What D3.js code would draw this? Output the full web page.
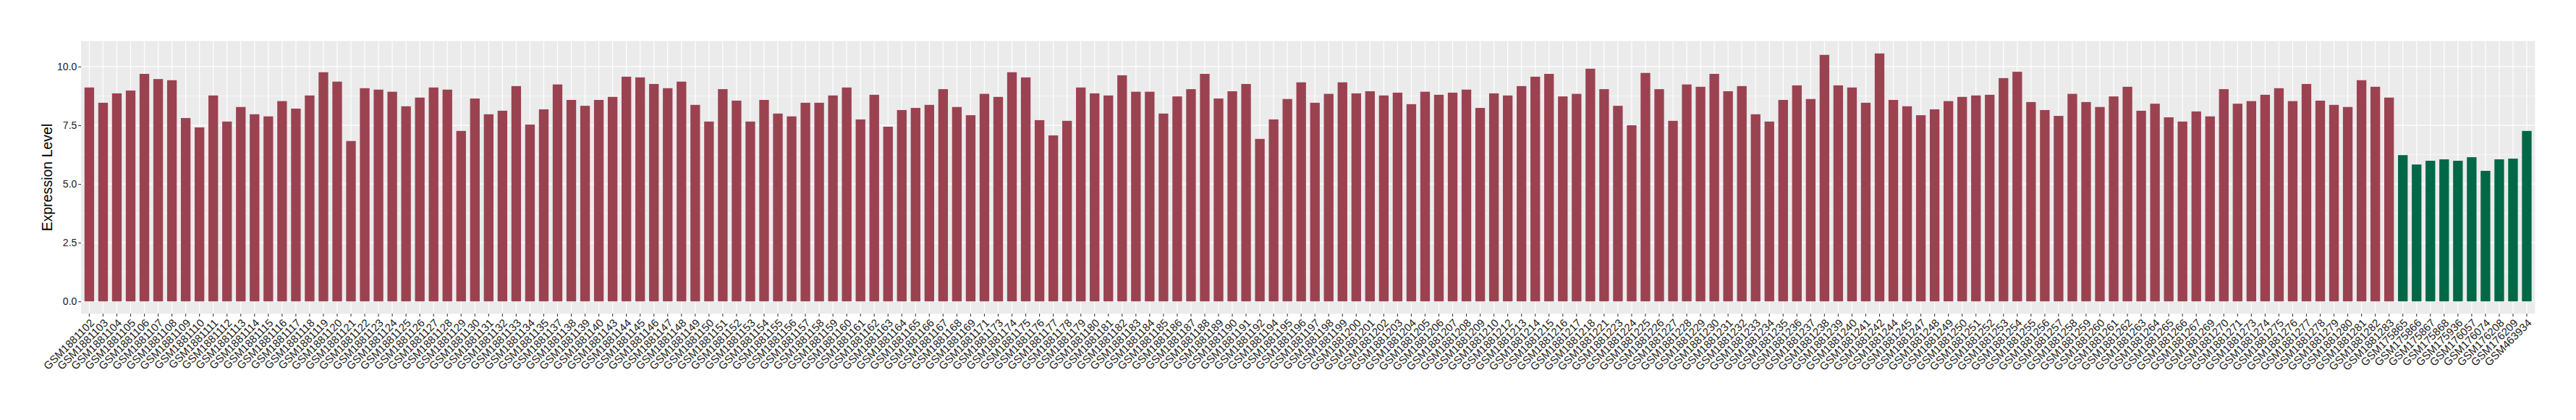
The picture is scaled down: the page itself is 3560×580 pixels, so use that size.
<!DOCTYPE html>
<html>
<head>
<meta charset="utf-8">
<style>
  body{ margin:0; background:#fff; }
  text{ font-family: "Liberation Sans", Arial, Helvetica, sans-serif; }
  .y-label{ fill:#1a1a1a; font-size:14px; }
  .x-label{ fill:#1a1a1a; font-size:15px; }
  .axis-title{ fill:#000; font-size:19.5px; }
</style>
<script src="https://d3js.org/d3.v7.min.js"></script>
</head>
<body>
<div id="chart"></div>
<script>
// samples in the first group (red bars)
const tumorSamples = [
  'GSM1881102','GSM1881103','GSM1881104','GSM1881105','GSM1881106','GSM1881107','GSM1881108','GSM1881109',
  'GSM1881110','GSM1881111','GSM1881112','GSM1881113','GSM1881114','GSM1881115','GSM1881116','GSM1881117',
  'GSM1881118','GSM1881119','GSM1881120','GSM1881121','GSM1881122','GSM1881123','GSM1881124','GSM1881125',
  'GSM1881126','GSM1881127','GSM1881128','GSM1881129','GSM1881130','GSM1881131','GSM1881132','GSM1881133',
  'GSM1881134','GSM1881135','GSM1881137','GSM1881138','GSM1881139','GSM1881140','GSM1881143','GSM1881144',
  'GSM1881145','GSM1881146','GSM1881147','GSM1881148','GSM1881149','GSM1881150','GSM1881151','GSM1881152',
  'GSM1881153','GSM1881154','GSM1881155','GSM1881156','GSM1881157','GSM1881158','GSM1881159','GSM1881160',
  'GSM1881161','GSM1881162','GSM1881163','GSM1881164','GSM1881165','GSM1881166','GSM1881167','GSM1881168',
  'GSM1881169','GSM1881171','GSM1881173','GSM1881174','GSM1881175','GSM1881176','GSM1881177','GSM1881178',
  'GSM1881179','GSM1881180','GSM1881181','GSM1881182','GSM1881183','GSM1881184','GSM1881185','GSM1881186',
  'GSM1881187','GSM1881188','GSM1881189','GSM1881190','GSM1881191','GSM1881192','GSM1881194','GSM1881195',
  'GSM1881196','GSM1881197','GSM1881198','GSM1881199','GSM1881200','GSM1881201','GSM1881202','GSM1881203',
  'GSM1881204','GSM1881205','GSM1881206','GSM1881207','GSM1881208','GSM1881209','GSM1881210','GSM1881212',
  'GSM1881213','GSM1881214','GSM1881215','GSM1881216','GSM1881217','GSM1881218','GSM1881221','GSM1881223',
  'GSM1881224','GSM1881225','GSM1881226','GSM1881227','GSM1881228','GSM1881229','GSM1881230','GSM1881231',
  'GSM1881232','GSM1881233','GSM1881234','GSM1881235','GSM1881236','GSM1881237','GSM1881238','GSM1881239',
  'GSM1881240','GSM1881241','GSM1881242','GSM1881244','GSM1881245','GSM1881247','GSM1881248','GSM1881249',
  'GSM1881250','GSM1881251','GSM1881252','GSM1881253','GSM1881254','GSM1881255','GSM1881256','GSM1881257',
  'GSM1881258','GSM1881259','GSM1881260','GSM1881261','GSM1881262','GSM1881263','GSM1881264','GSM1881265',
  'GSM1881266','GSM1881267','GSM1881269','GSM1881270','GSM1881271','GSM1881273','GSM1881274','GSM1881275',
  'GSM1881276','GSM1881277','GSM1881278','GSM1881279','GSM1881280','GSM1881281','GSM1881282','GSM1881283'
];
const tumorValues = [
  9.11, 8.46, 8.86, 8.98, 9.69, 9.47, 9.42, 7.81,
  7.41, 8.77, 7.66, 8.28, 7.97, 7.88, 8.53, 8.21,
  8.77, 9.76, 9.36, 6.83, 9.08, 9.02, 8.93, 8.31,
  8.68, 9.11, 9.02, 7.26, 8.64, 7.97, 8.12, 9.17,
  7.53, 8.18, 9.24, 8.58, 8.33, 8.58, 8.71, 9.57,
  9.54, 9.26, 9.08, 9.36, 8.37, 7.66, 9.04, 8.55,
  7.66, 8.58, 8.00, 7.88, 8.46, 8.46, 8.77, 9.11,
  7.75, 8.80, 7.44, 8.15, 8.24, 8.37, 9.04, 8.28,
  7.93, 8.84, 8.71, 9.76, 9.54, 7.72, 7.07, 7.69,
  9.11, 8.86, 8.77, 9.63, 8.93, 8.93, 8.00, 8.73,
  9.04, 9.69, 8.64, 8.95, 9.26, 6.92, 7.75, 8.62,
  9.33, 8.46, 8.84, 9.33, 8.86, 8.95, 8.77, 8.89,
  8.40, 8.93, 8.80, 8.89, 9.02, 8.24, 8.86, 8.77,
  9.17, 9.57, 9.69, 8.73, 8.84, 9.91, 9.04, 8.33,
  7.50, 9.73, 9.04, 7.69, 9.24, 9.14, 9.69, 8.95,
  9.17, 7.97, 7.66, 8.58, 9.20, 8.62, 10.50, 9.20,
  9.11, 8.46, 10.56, 8.58, 8.31, 7.93, 8.18, 8.53,
  8.71, 8.77, 8.80, 9.51, 9.78, 8.49, 8.15, 7.90,
  8.84, 8.49, 8.28, 8.73, 9.14, 8.12, 8.42, 7.84,
  7.66, 8.09, 7.88, 9.04, 8.42, 8.53, 8.80, 9.08,
  8.53, 9.26, 8.55, 8.37, 8.28, 9.42, 9.14, 8.68
];
// samples in the second group (green bars)
const normalSamples = [
  'GSM175865','GSM175866','GSM175867','GSM175868','GSM175936',
  'GSM176057','GSM176074','GSM176208','GSM176209','GSM463934'
];
const normalValues = [6.23, 5.83, 5.99, 6.05, 5.99, 6.14, 5.56, 6.05, 6.08, 7.26];

const yTicks = [0, 2.5, 5, 7.5, 10];
const yTitle = 'Expression Level';
const groupColours = {tumor: '#9b4251', normal: '#006847'};

const width = 3560;
const height = 580;
const panel = {left: 112, right: 3503.4, top: 56.7, bottom: 433.3};

const data = tumorSamples.map((s, i) => ({sample: s, value: tumorValues[i], group: 'tumor'}))
  .concat(normalSamples.map((s, i) => ({sample: s, value: normalValues[i], group: 'normal'})));

const svg = d3.select('#chart')
  .append('svg')
  .attr('width', width)
  .attr('height', height);

svg.append('rect')
  .attr('width', width)
  .attr('height', height)
  .attr('fill', '#fff');

// ggplot-like scales: 5% expansion on y, 0.6 step on discrete x
const yMax = d3.max(data, d => d.value);
const y = d3.scaleLinear()
  .domain([-0.05 * yMax, 1.05 * yMax])
  .range([panel.bottom, panel.top]);

const x = d3.scaleBand()
  .domain(data.map(d => d.sample))
  .range([panel.left, panel.right])
  .paddingInner(0.3)
  .paddingOuter(0.25);

const xc = d => x(d) + x.bandwidth() / 2;

svg.append('rect')
  .attr('x', panel.left)
  .attr('y', panel.top)
  .attr('width', panel.right - panel.left)
  .attr('height', panel.bottom - panel.top)
  .attr('fill', '#ebebeb');

const grid = svg.append('g');

// minor gridlines half way between the major ones
grid.selectAll('.minor')
  .data(d3.pairs(yTicks).map(p => (p[0] + p[1]) / 2))
  .enter().append('line')
  .attr('x1', panel.left).attr('x2', panel.right)
  .attr('y1', d => y(d)).attr('y2', d => y(d))
  .attr('stroke', '#fff').attr('stroke-width', 0.6);

grid.selectAll('.major')
  .data(yTicks)
  .enter().append('line')
  .attr('x1', panel.left).attr('x2', panel.right)
  .attr('y1', d => y(d)).attr('y2', d => y(d))
  .attr('stroke', '#fff').attr('stroke-width', 1.2);

grid.selectAll('.vert')
  .data(x.domain())
  .enter().append('line')
  .attr('x1', xc).attr('x2', xc)
  .attr('y1', panel.top).attr('y2', panel.bottom)
  .attr('stroke', '#fff').attr('stroke-width', 1.2);

svg.append('g')
  .selectAll('rect')
  .data(data)
  .enter().append('rect')
  .attr('x', d => x(d.sample))
  .attr('width', x.bandwidth())
  .attr('y', d => y(d.value))
  .attr('height', d => y(0) - y(d.value))
  .attr('fill', d => groupColours[d.group]);

// y axis
const yAxis = svg.append('g')
  .attr('transform', `translate(${panel.left},0)`)
  .call(d3.axisLeft(y).tickValues(yTicks).tickFormat(d3.format('.1f')).tickSize(3.7).tickPadding(2));
yAxis.select('.domain').remove();
yAxis.selectAll('line').attr('stroke', '#333').attr('stroke-width', 1.1);
yAxis.selectAll('text')
  .attr('class', 'y-label')
  .attr('font-family', null).attr('font-size', null).attr('fill', null);

// x axis
const xAxis = svg.append('g')
  .attr('transform', `translate(0,${panel.bottom})`)
  .call(d3.axisBottom(x).tickSize(3.7).tickPadding(2));
xAxis.select('.domain').remove();
xAxis.selectAll('line').attr('stroke', '#333').attr('stroke-width', 1.1);
xAxis.selectAll('text')
  .attr('class', 'x-label')
  .attr('font-family', null).attr('font-size', null).attr('fill', null)
  .attr('text-anchor', 'end')
  .attr('dy', '0.72em')
  .attr('transform', 'translate(0,6) rotate(-45)')
  .attr('y', 0);

svg.append('text')
  .attr('class', 'axis-title')
  .attr('transform', `translate(72,${(panel.top + panel.bottom) / 2}) rotate(-90)`)
  .attr('text-anchor', 'middle')
  .text(yTitle);
</script>
</body>
</html>
